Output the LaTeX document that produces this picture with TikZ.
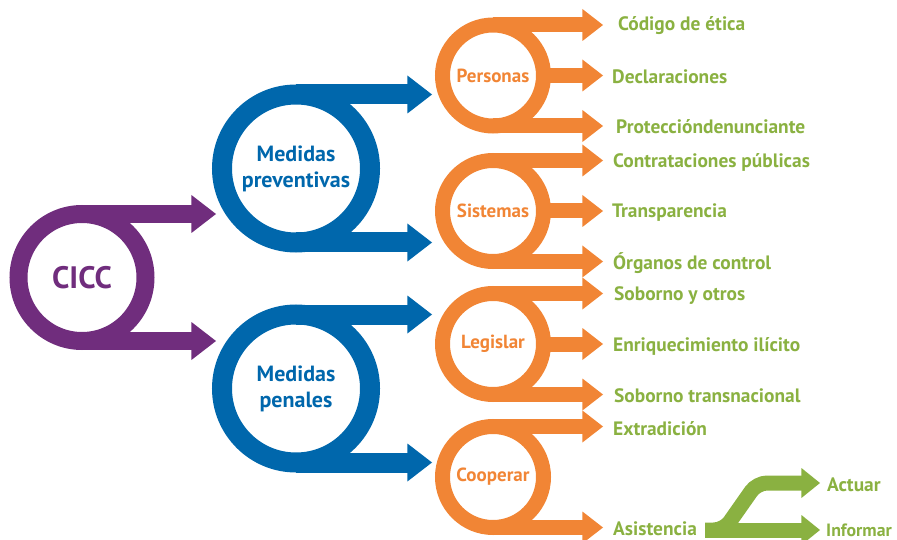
\documentclass[tikz,border=0pt]{standalone}
\usepackage{fontspec}
\setmainfont{PT Sans}
\definecolor{cpurple}{RGB}{112,45,125}
\definecolor{cblue}{RGB}{0,103,172}
\definecolor{corange}{RGB}{241,133,53}
\definecolor{cgreen}{RGB}{138,177,65}
% filled arrow head: colour, base point, length, half width
\newcommand\headat[4]{\fill[#1] ($(#2)+(-0.6,-#4)$) -- ++(#3+0.6,#4) -- ++(-#3-0.6,#4) -- cycle;}
\usetikzlibrary{calc}
\tikzset{
  ring/.style={circle, draw, inner sep=0pt, outer sep=0pt, align=center},
  bigring/.style={ring, draw=cpurple, line width=18pt, minimum size=127pt, text=cpurple,
    font=\bfseries\fontsize{31}{31}\selectfont},
  midring/.style={ring, draw=cblue, line width=20pt, minimum size=148pt, text=cblue,
    font=\bfseries\fontsize{22}{26}\selectfont},
  smallring/.style={ring, draw=corange, line width=15pt, minimum size=101pt, text=corange,
    font=\bfseries\fontsize{19}{20}\selectfont},
  pbar/.style={draw=cpurple, line width=18pt},
  bbar/.style={draw=cblue, line width=20pt},
  obar/.style={draw=corange, line width=15pt},
  gbar/.style={draw=cgreen, line width=15pt},
  item/.style={anchor=west, inner sep=0pt, yshift=-2pt, text=cgreen,
    font=\bfseries\fontsize{19.4}{19.4}\selectfont},
}
\begin{document}
\begin{tikzpicture}[x=1pt,y=-1pt]
\useasboundingbox (0,0) rectangle (897,540);
\clip (0,0) rectangle (897,540);

% first level
\node[bigring] (cicc) at (82,277.5) {CICC};
\draw[pbar] (cicc.north) -- ++(110,0) coordinate (ciccA);
\draw[pbar] (cicc.south) -- ++(110,0) coordinate (ciccB);
\headat{cpurple}{ciccA}{24}{19}
\headat{cpurple}{ciccB}{24}{19}

% second level
\node[midring] (prev) at (296,168.5) {Medidas\\preventivas};
\node[midring] (pen) at (296,388.5) {Medidas\\penales};
\foreach \n in {prev,pen}{
  \draw[bbar] (\n.north) -- ++(112,0) coordinate (\n A);
  \draw[bbar] (\n.south) -- ++(112,0) coordinate (\n B);
  \headat{cblue}{\n A}{24}{19}
  \headat{cblue}{\n B}{24}{19}
}

% third level
\node[smallring] (pers) at (493,75.5) {Personas};
\node[smallring] (sist) at (493,211) {Sistemas};
\node[smallring] (legi) at (493,344) {Legislar};
\node[smallring] (coop) at (493,477) {Cooperar};
\foreach \n in {pers,sist,legi,coop}{
  \draw[obar] (\n.north) -- ++(90,0) coordinate (\n A);
  \draw[obar] (\n.south) -- ++(90,0) coordinate (\n C);
  \headat{corange}{\n A}{20}{16}
  \headat{corange}{\n C}{20}{16}
}
\foreach \n in {pers,sist,legi}{
  \draw[obar] (\n.east) -- ++(39.5,0) coordinate (\n B);
  \headat{corange}{\n B}{20}{16}
}

% leaves
\node[item] (l1) at (618,24) {Código de ética};
\node[item] (l2) at (612,75) {Declaraciones};
\node[item] (l3) at (616,125) {Proteccióndenunciante};
\node[item] (l4) at (613,160) {Contrataciones públicas};
\node[item] (l5) at (612,211) {Transparencia};
\node[item] (l6) at (613,261) {Órganos de control};
\node[item] (l7) at (614,294) {Soborno y otros};
\node[item] (l8) at (613,344) {Enriquecimiento ilícito};
\node[item] (l9) at (614,394) {Soborno transnacional};
\node[item] (l10) at (613,427) {Extradición};
\node[item] (asis) at (613,527) {Asistencia};

% split after Asistencia
\coordinate (g0) at (705,530);
\draw[gbar] (g0) -- (802,530) coordinate (gB);
\draw[gbar, rounded corners=10pt] (g0) -- (724,530) -- (757,483) -- (802,483) coordinate (gA);
\headat{cgreen}{gA}{18}{15}
\headat{cgreen}{gB}{18}{15}
\node[item] (act) at (827,483) {Actuar};
\node[item, font=\bfseries\fontsize{17.8}{17.8}\selectfont] (inf) at (826,528) {Informar};
\end{tikzpicture}
\end{document}
